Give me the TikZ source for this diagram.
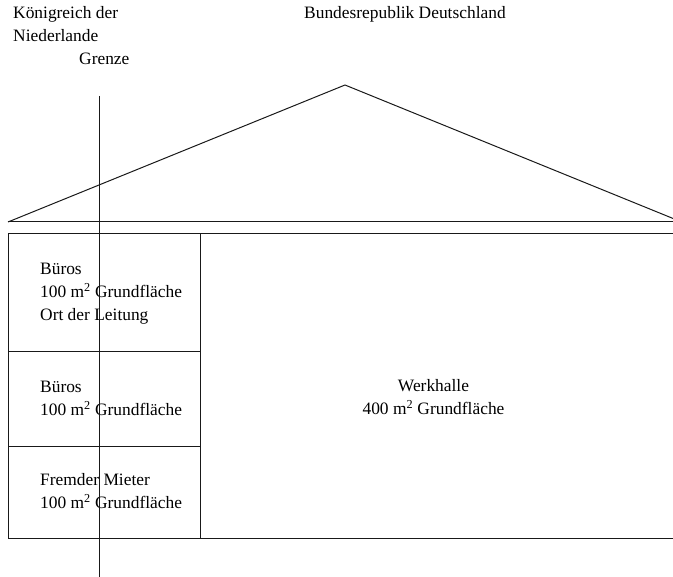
\documentclass[tikz,border=0pt]{standalone}
\usepackage{fontspec}
\setmainfont{Liberation Serif}
\newcommand{\planfont}{\fontsize{17.4}{23}\selectfont}
\tikzset{
  plantext/.style={inner sep=0pt, anchor=base west, align=left, font=\planfont},
  wall/.style={line width=1pt, draw=black!90}
}

\begin{document}
\begin{tikzpicture}[x=1pt, y=-1pt]
        \useasboundingbox (0,0) rectangle (673,577);
        \clip (0,0) rectangle (673,577);

        % Beschriftung oben (base = letzte Zeile)
        \node (NL) at (13,41.5) [plantext] {Königreich der\\Niederlande};
        \node (Grenze) at (79,64.5) [plantext] {Grenze};
        \node (DE) at (304,18.5) [plantext] {Bundesrepublik Deutschland};

        % Dach
        \coordinate (roofL) at (8,222);
        \coordinate (roofT) at (345,85);
        \coordinate (roofR) at (690,222);
        \draw[wall] (roofL) -- (roofT) -- (694,227);
        \draw[wall] (roofL) -- (roofR);

        % Gebaeude
        \draw[wall] (8,234) rectangle (700,539);
        \draw[wall] (200,234) -- (200,539);
        \draw[wall] (8,352) -- (200,352);
        \draw[wall] (8,446.5) -- (200,446.5);

        \node (B1) at (40,321) [plantext] {Büros\\100 m\textsuperscript{2} Grundfläche\\Ort der Leitung};
        \node (B2) at (40,415.5) [plantext] {Büros\\100 m\textsuperscript{2} Grundfläche};
        \node (FM) at (40,509) [plantext] {Fremder Mieter\\100 m\textsuperscript{2} Grundfläche};
        \node (WH) at (433.5,414.5) [inner sep=0pt, anchor=base, align=center, font=\planfont]
                {Werkhalle\\400 m\textsuperscript{2} Grundfläche};

        % Grenzlinie
        \coordinate (gTop) at (99,96);
        \coordinate (gBot) at (99,577);
        \draw[wall] (gTop) -- (gBot);
\end{tikzpicture}
\end{document}
